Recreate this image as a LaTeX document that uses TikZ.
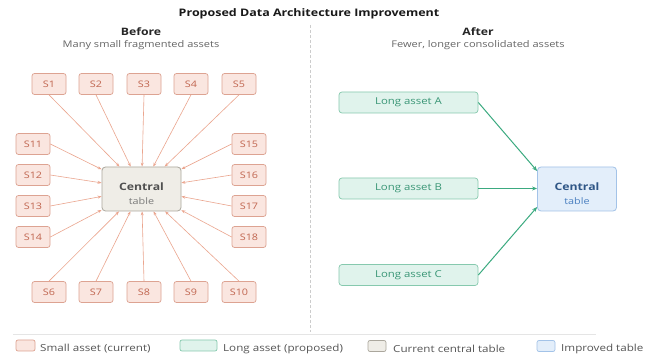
\documentclass[tikz,border=0pt]{standalone}
\usepackage{fontspec}
\setmainfont{Open Sans}[FakeStretch=1.2]
\usetikzlibrary{arrows.meta,calc}
\definecolor{smallfill}{HTML}{FAE6E0}
\definecolor{smallborder}{HTML}{DDA392}
\definecolor{smalltext}{HTML}{C0654F}
\definecolor{smallline}{HTML}{EBA58E}
\definecolor{curfill}{HTML}{EFEDE7}
\definecolor{curborder}{HTML}{ABA79D}
\definecolor{curtext}{HTML}{505050}
\definecolor{curtext2}{HTML}{7A7A7A}
\definecolor{longfill}{HTML}{E0F3EC}
\definecolor{longborder}{HTML}{86C9AE}
\definecolor{longtext}{HTML}{3A9676}
\definecolor{longline}{HTML}{3BAA80}
\definecolor{impfill}{HTML}{E3EEFA}
\definecolor{impborder}{HTML}{A3C3E8}
\definecolor{imptext}{HTML}{2F5686}
\definecolor{imptext2}{HTML}{4A7FC0}
\definecolor{subgray}{HTML}{666666}
\definecolor{legtext}{HTML}{555555}
\definecolor{divgray}{HTML}{CCCCCC}
\begin{document}
\begin{tikzpicture}[x=1pt,y=-1pt,
  smallbox/.style={draw=smallborder, fill=smallfill, rounded corners=2.5pt, minimum width=34pt, minimum height=21pt, inner sep=0pt, text=smalltext, font=\fontsize{9}{10}\selectfont, line width=0.7pt},
  longbox/.style={draw=longborder, fill=longfill, rounded corners=3pt, minimum width=139pt, minimum height=21pt, inner sep=0pt, text=longtext, font=\fontsize{9.5}{11}\selectfont, line width=0.7pt},
  centralbox/.style={rounded corners=3.5pt, minimum width=79pt, minimum height=44pt, inner sep=0pt, line width=0.8pt},
  bigtxt/.style={font=\bfseries\fontsize{10.2}{12}\selectfont, inner sep=0pt},
  subtxt/.style={font=\fontsize{9}{10}\selectfont, inner sep=0pt},
  sline/.style={draw=smallline, line width=0.6pt, -{Stealth[length=4pt,width=3pt]}},
  lline/.style={draw=longline, line width=1pt, -{Stealth[length=5pt,width=4pt]}},
  swatch/.style={rounded corners=2pt, line width=0.7pt, inner sep=0pt},
  legend/.style={text=legtext, font=\fontsize{9.7}{12}\selectfont, anchor=west, inner sep=0pt}
]
\useasboundingbox (0,0) rectangle (662,358);
\fill[white] (0,0) rectangle (662,358);

% titles
\node[font=\bfseries\fontsize{10.4}{12}\selectfont, text=black!90] (title) at (309,14) {Proposed Data Architecture Improvement};
\node[font=\bfseries\fontsize{10.2}{12}\selectfont, text=black!85] (before) at (141,32) {Before};
\node[font=\fontsize{9.2}{11}\selectfont, text=subgray] (beforesub) at (141,45) {Many small fragmented assets};
\node[font=\bfseries\fontsize{10.2}{12}\selectfont, text=black!85] (after) at (478,32) {After};
\node[font=\fontsize{9.2}{11}\selectfont, text=subgray] (aftersub) at (478,45) {Fewer, longer consolidated assets};

% divider
\coordinate (d1) at (310,25);
\coordinate (d2) at (310,332);
\draw[divgray, dash pattern=on 3pt off 2pt, line width=0.6pt] (d1) -- (d2);

% central (before)
\node[centralbox, draw=curborder, fill=curfill] (c) at (141.5,189) {};
\node[bigtxt, text=curtext] (ct1) at ($(c.center)+(0,-2)$) {Central};
\node[subtxt, text=curtext2] (ct2) at ($(c.center)+(0,12)$) {table};

% small assets
\foreach \n/\x in {1/49,2/96,3/144,4/191,5/239}{
  \node[smallbox] (s\n) at (\x,84) {S\n};
  \draw[sline] (s\n.south) -- (c);
}
\foreach \n/\x in {6/49,7/96,8/144,9/191,10/239}{
  \node[smallbox] (s\n) at (\x,292) {S\n};
  \draw[sline] (s\n.north) -- (c);
}
\foreach \n/\y in {11/144,12/175,13/206,14/237}{
  \node[smallbox] (s\n) at (33,\y) {S\n};
  \draw[sline] (s\n.east) -- (c);
}
\foreach \n/\y in {15/144,16/175,17/206,18/237}{
  \node[smallbox] (s\n) at (249,\y) {S\n};
  \draw[sline] (s\n.west) -- (c);
}

% after
\node[centralbox, draw=impborder, fill=impfill] (imp) at (577,189) {};
\node[bigtxt, text=imptext] (it1) at ($(imp.center)+(0,-2)$) {Central};
\node[subtxt, text=imptext2] (it2) at ($(imp.center)+(0,12)$) {table};
\node[longbox] (la) at (408.5,102.5) {Long asset A};
\node[longbox] (lb) at (408.5,188.5) {Long asset B};
\node[longbox] (lc) at (408.5,275) {Long asset C};
\draw[lline] (la.east) -- ($(imp.west)+(0,-18)$);
\draw[lline] (lb.east) -- (lb.east -| imp.west);
\draw[lline] (lc.east) -- ($(imp.west)+(0,18)$);

% legend
\coordinate (l1) at (13,334);
\coordinate (l2) at (596,334);
\draw[black!10, line width=0.6pt] (l1) -- (l2);
\node[swatch, draw=smallborder, fill=smallfill, minimum width=19pt, minimum height=11pt] (k1) at (25.5,345.5) {};
\node[legend] (t1) at (40,349) {Small asset (current)};
\node[swatch, draw=longborder, fill=longfill, minimum width=37pt, minimum height=11pt] (k2) at (198.5,345.5) {};
\node[legend] (t2) at (223,349) {Long asset (proposed)};
\node[swatch, draw=curborder, fill=curfill, minimum width=18pt, minimum height=11pt] (k3) at (377,346) {};
\node[legend] (t3) at (393,349) {Current central table};
\node[swatch, draw=impborder, fill=impfill, minimum width=18pt, minimum height=11pt] (k4) at (546,346) {};
\node[legend] (t4) at (561,349) {Improved table};
\end{tikzpicture}
\end{document}
